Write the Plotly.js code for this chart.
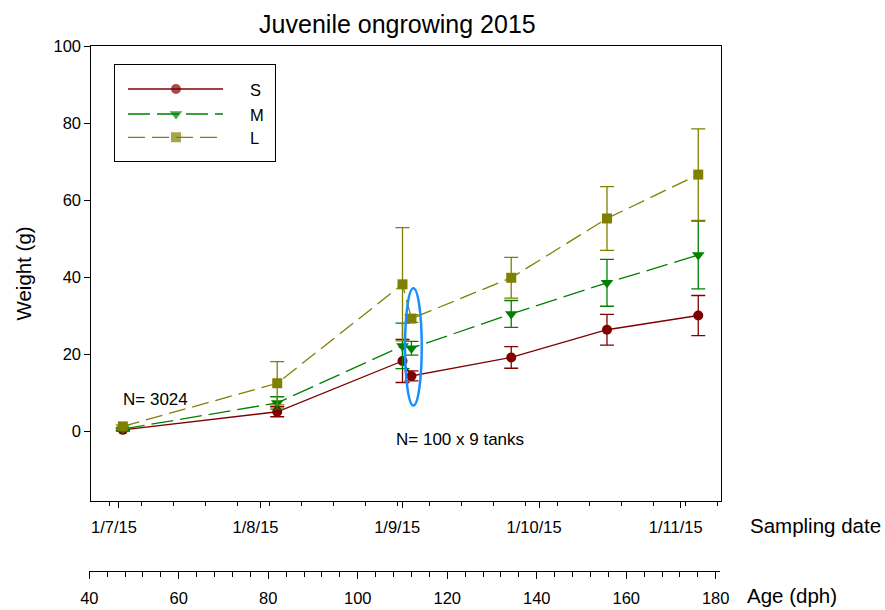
<!DOCTYPE html>
<html>
<head>
<meta charset="utf-8">
<script src="https://cdn.plot.ly/plotly-3.0.1.min.js"></script>
<style>html,body{margin:0;padding:0;background:#fff;}#chart{width:885px;height:610px;}</style>
</head>
<body>
<div id="chart"></div>
<script>
// ---- data ----
var seriesNames = ['S', 'M', 'L'];
var ageDph = [47.5, 82, 110, 112, 134.3, 155.7, 176.1];
var weightS = [0.3, 5.0, 18.2, 14.3, 19.1, 26.3, 30.0];
var errS    = [0.3, 1.3, 5.6, 1.3, 2.8, 4.0, 5.2];
var weightM = [0.5, 7.3, 22.1, 21.5, 30.4, 38.5, 45.7];
var errM    = [0.3, 1.6, 5.9, 1.8, 3.5, 6.1, 8.8];
var weightL = [1.2, 12.4, 38.1, 29.2, 39.8, 55.2, 66.6];
var errL    = [0.4, 5.6, 14.7, 1.0, 5.3, 8.3, 11.9];
var dateTickVals = ['2015-07-01', '2015-08-01', '2015-09-01', '2015-10-01', '2015-11-01'];
var dateTickText = ['1/7/15', '1/8/15', '1/9/15', '1/10/15', '1/11/15'];
var ageTickVals = [40, 60, 80, 100, 120, 140, 160, 180];
var yTickVals = [0, 20, 40, 60, 80, 100];

// ---- styles ----
var FONT = 'Liberation Sans, Arial, Helvetica, sans-serif';
var styles = [
  {color: '#800000', symbol: 'circle', size: 10, dash: 'solid'},
  {color: '#008000', symbol: 'triangle-down', size: 11, dash: '22px,7px'},
  {color: '#808000', symbol: 'square', size: 10, dash: '17px,7px'}
];
var values = [weightS, weightM, weightL];
var errors = [errS, errM, errL];

var traces = [];
for (var i = 0; i < seriesNames.length; i++) {
  traces.push({
    type: 'scatter', mode: 'lines+markers', name: seriesNames[i],
    x: ageDph, y: values[i], xaxis: 'x', yaxis: 'y',
    line: {color: styles[i].color, width: 1.3, dash: styles[i].dash},
    marker: {color: styles[i].color, symbol: styles[i].symbol, size: styles[i].size, line: {width: 0}},
    error_y: {type: 'data', array: errors[i], visible: true, color: styles[i].color, thickness: 1.3, width: 7},
    showlegend: false, hoverinfo: 'x+y'
  });
}
// dummy trace so the sampling-date axis is drawn
traces.push({type: 'scatter', mode: 'markers', x: [dateTickVals[0]], y: [null], xaxis: 'x2', yaxis: 'y', showlegend: false, hoverinfo: 'skip'});

// custom legend drawn in its own small subplot (units = px inside the box)
var legendRowY = [71.7, 46.7, 23.4];
var legendAnn = [];
for (var j = 0; j < seriesNames.length; j++) {
  traces.push({
    type: 'scatter', mode: 'lines+markers', x: [13, 61, 108], y: [legendRowY[j], legendRowY[j], legendRowY[j]],
    xaxis: 'x3', yaxis: 'y3', showlegend: false, hoverinfo: 'skip',
    line: {color: styles[j].color, width: 1.3, dash: styles[j].dash},
    marker: {color: styles[j].color, symbol: styles[j].symbol, size: [0, styles[j].size, 0], line: {width: 0}}
  });
  legendAnn.push({xref: 'x3', yref: 'y3', x: 133, y: legendRowY[j] - 0.8, text: seriesNames[j], showarrow: false,
    xanchor: 'left', yanchor: 'middle', font: {family: FONT, size: 16.5, color: '#000'}});
}

var axisFont = {family: FONT, size: 16.5, color: '#000'};
var layout = {
  width: 885, height: 610,
  margin: {l: 89, r: 164, t: 46, b: 39, pad: 0},
  paper_bgcolor: '#fff', plot_bgcolor: 'rgba(0,0,0,0)',
  font: {family: FONT, color: '#000'},
  showlegend: false,
  title: {text: 'Juvenile ongrowing 2015', font: {family: FONT, size: 25, color: '#000'},
    x: 0.488, xref: 'paper', xanchor: 'center', y: 1 - 24/610, yref: 'container', yanchor: 'middle'},
  xaxis: {
    domain: [0, 0.99842], range: [39.933, 180.96], anchor: 'free', position: 0,
    showline: true, linecolor: '#000', linewidth: 1, showgrid: false, zeroline: false,
    tickmode: 'array', tickvals: ageTickVals, ticks: 'outside', ticklen: 7, tickwidth: 1, tickcolor: '#000',
    ticklabelstandoff: 5,
    minor: {tickmode: 'linear', tick0: 40, dtick: 4, ticks: 'outside', ticklen: 5, tickwidth: 1, tickcolor: '#000', showgrid: false},
    tickfont: axisFont, fixedrange: true
  },
  xaxis2: {
    type: 'date', domain: [0.003165, 1], range: ['2015-06-24 21:00', '2015-11-09 19:48'], anchor: 'y',
    showline: true, mirror: true, linecolor: '#000', linewidth: 1, showgrid: false, zeroline: false,
    tickmode: 'array', tickvals: dateTickVals, ticktext: dateTickText, ticks: 'outside', ticklen: 6, tickwidth: 1, tickcolor: '#000',
    ticklabelshift: -5, ticklabelstandoff: 5,
    minor: {tickmode: 'linear', tick0: '2015-06-29', dtick: 604800000, ticks: 'outside', ticklen: 3.5, tickwidth: 1, tickcolor: '#000', showgrid: false},
    tickfont: axisFont, fixedrange: true
  },
  yaxis: {
    domain: [0.13333, 1], range: [-18.18, 100], anchor: 'x2',
    showline: true, mirror: true, linecolor: '#000', linewidth: 1, showgrid: false, zeroline: false,
    tickmode: 'array', tickvals: yTickVals, ticks: 'outside', ticklen: 5.7, tickwidth: 1, tickcolor: '#000',
    tickfont: axisFont, fixedrange: true
  },
  xaxis3: {domain: [0.0411, 0.2948], range: [0, 160.3], anchor: 'y3', showline: true, mirror: true, linecolor: '#000', linewidth: 1,
    showgrid: false, zeroline: false, showticklabels: false, ticks: '', fixedrange: true},
  yaxis3: {domain: [0.7815, 0.9638], range: [0, 95.7], anchor: 'x3', showline: true, mirror: true, linecolor: '#000', linewidth: 1,
    showgrid: false, zeroline: false, showticklabels: false, ticks: '', fixedrange: true},
  shapes: [
    {type: 'circle', xref: 'x', yref: 'y', x0: 110.56, x1: 114.3, y0: 6.6, y1: 37.1, line: {color: '#1c8dff', width: 2.5}}
  ],
  annotations: [
    {xref: 'paper', yref: 'paper', x: -0.1052, y: 0.5657, text: 'Weight (g)', textangle: -90, showarrow: false,
      xanchor: 'center', yanchor: 'middle', font: {family: FONT, size: 20.5, color: '#000'}},
    {xref: 'paper', yref: 'paper', x: 1.0422, y: 0.0876, text: 'Sampling date', showarrow: false,
      xanchor: 'left', yanchor: 'middle', font: {family: FONT, size: 20.5, color: '#000'}},
    {xref: 'paper', yref: 'paper', x: 1.038, y: -0.0476, text: 'Age (dph)', showarrow: false,
      xanchor: 'left', yanchor: 'middle', font: {family: FONT, size: 20.5, color: '#000'}},
    {xref: 'x', yref: 'y', x: 54.9, y: 8.2, text: 'N= 3024', showarrow: false,
      xanchor: 'center', yanchor: 'middle', font: {family: FONT, size: 17, color: '#000'}},
    {xref: 'x', yref: 'y', x: 122.86, y: -2.08, text: 'N= 100 x 9 tanks', showarrow: false,
      xanchor: 'center', yanchor: 'middle', font: {family: FONT, size: 17, color: '#000'}}
  ].concat(legendAnn)
};

Plotly.newPlot('chart', traces, layout, {displayModeBar: false, responsive: false});
</script>
</body>
</html>
